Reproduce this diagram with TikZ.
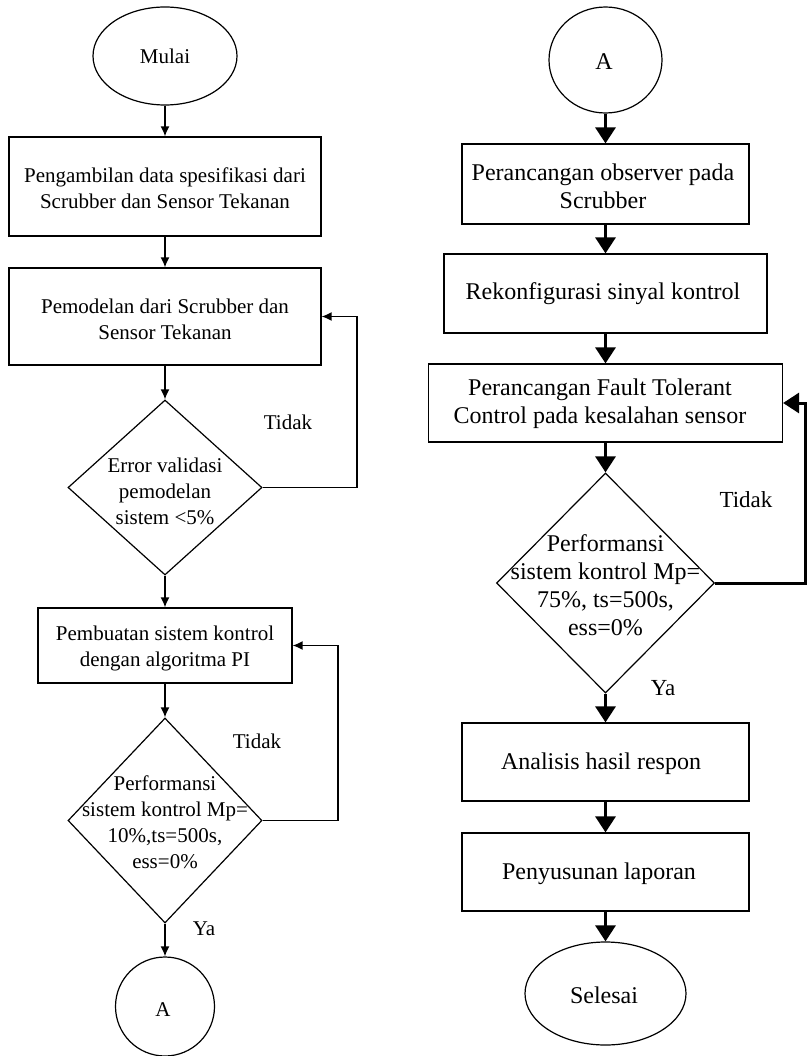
\documentclass[tikz,border=0pt]{standalone}
\usepackage{fontspec}
\setmainfont{Liberation Serif}
\usetikzlibrary{shapes.geometric,arrows.meta}
\begin{document}
\begin{tikzpicture}[x=1pt,y=-1pt,
  lshape/.style={draw,line width=1.2pt,inner sep=0pt},
  ltext/.style={align=center,inner sep=0pt,font=\fontsize{21}{26}\selectfont},
  rtext/.style={align=center,inner sep=0pt,font=\fontsize{24}{28}\selectfont},
  larrow/.style={line width=1.5pt,-{Latex[length=10pt,width=9pt]}},
  rarrow/.style={line width=3pt,-{Triangle[length=16pt,width=20pt]}},
  lbl/.style={inner sep=0pt,font=\fontsize{21}{24}\selectfont}]
\useasboundingbox (0,0) rectangle (808,1056);
% ---------- left column ----------
\node[lshape,ellipse,minimum width=144pt,minimum height=98pt] (m) at (165,56) {};
\node[ltext] (mt) at (165,56) {Mulai};
\node[lshape,rectangle,minimum width=312pt,minimum height=99pt] (b1) at (165,186.5) {};
\node[ltext] (b1t) at (165,188) {Pengambilan data spesifikasi dari\\Scrubber dan Sensor Tekanan};
\node[lshape,rectangle,minimum width=312pt,minimum height=97pt] (b2) at (165,316.5) {};
\node[ltext] (b2t) at (165,319) {Pemodelan dari Scrubber dan\\Sensor Tekanan};
\node[lshape,diamond,minimum width=194pt,minimum height=175pt] (d1) at (165,487.5) {};
\node[ltext] (d1t) at (165,491) {Error validasi\\pemodelan\\sistem <5\%};
\node[lshape,rectangle,minimum width=254pt,minimum height=75pt] (b3) at (165,645.5) {};
\node[ltext] (b3t) at (165,648) {Pembuatan sistem kontrol\\dengan algoritma PI};
\node[lshape,diamond,minimum width=194pt,minimum height=205pt] (d2) at (165,820.5) {};
\node[ltext] (d2t) at (165,822) {Performansi\\sistem kontrol Mp=\\10\%,ts=500s,\\ess=0\%};
\node[lshape,circle,minimum size=99pt] (ca) at (165,1006.5) {};
\node[ltext] (cat) at (163,1010) {A};
\node[lbl] (t1) at (288,422) {Tidak};
\node[lbl] (t2) at (257,741) {Tidak};
\node[lbl] (y1) at (204,929) {Ya};
\coordinate (f1) at (357,487.5);
\coordinate (f2) at (338,820.5);
\draw[larrow] (m) -- (b1);
\draw[larrow] (b1) -- (b2);
\draw[larrow] (b2) -- (d1.north);
\draw[larrow] (d1.south) -- (b3);
\draw[larrow] (b3) -- (d2.north);
\draw[larrow] (d2.south) -- (ca);
\draw[larrow] (d1.east) -- (f1) |- (b2.east);
\draw[larrow] (d2.east) -- (f2) |- (b3.east);
% ---------- right column ----------
\node[lshape,ellipse,minimum width=113pt,minimum height=106pt] (cb) at (605.5,60) {};
\node[rtext] (cbt) at (604,62) {A};
\node[lshape,rectangle,minimum width=287pt,minimum height=80pt] (r1) at (605.5,184) {};
\node[rtext] (r1t) at (603,186) {Perancangan observer pada\\Scrubber};
\node[lshape,rectangle,minimum width=323pt,minimum height=79pt] (r2) at (605.5,293.5) {};
\node[rtext] (r2t) at (603,294) {Rekonfigurasi sinyal kontrol};
\node[lshape,rectangle,minimum width=354pt,minimum height=78pt] (r3) at (605.5,403) {};
\node[rtext] (r3t) at (600,404) {Perancangan Fault Tolerant\\Control pada kesalahan sensor};
\node[lshape,diamond,minimum width=218pt,minimum height=220pt] (d3) at (605.5,583) {};
\node[rtext] (d3t) at (605.5,585) {Performansi\\sistem kontrol Mp=\\75\%, ts=500s,\\ess=0\%};
\node[lshape,rectangle,minimum width=287pt,minimum height=78pt] (r4) at (605.5,762) {};
\node[rtext] (r4t) at (601,764) {Analisis hasil respon};
\node[lshape,rectangle,minimum width=287pt,minimum height=78pt] (r5) at (605.5,872) {};
\node[rtext] (r5t) at (599,874) {Penyusunan laporan};
\node[lshape,ellipse,minimum width=161pt,minimum height=103pt] (e) at (605.5,993.5) {};
\node[rtext] (et) at (604,995) {Selesai};
\node[lbl,font=\fontsize{23}{26}\selectfont] (t3) at (746,500) {Tidak};
\node[lbl,font=\fontsize{23}{26}\selectfont] (y2) at (663,688) {Ya};
\coordinate (f3) at (805,583);
\draw[rarrow] (cb) -- (r1);
\draw[rarrow] (r1) -- (r2);
\draw[rarrow] (r2) -- (r3);
\draw[rarrow] (r3) -- (d3.north);
\draw[rarrow] (d3.south) -- (r4);
\draw[rarrow] (r4) -- (r5);
\draw[rarrow] (r5) -- (e);
\draw[rarrow] (d3.east) -- (f3) |- (r3.east);
\end{tikzpicture}
\end{document}
